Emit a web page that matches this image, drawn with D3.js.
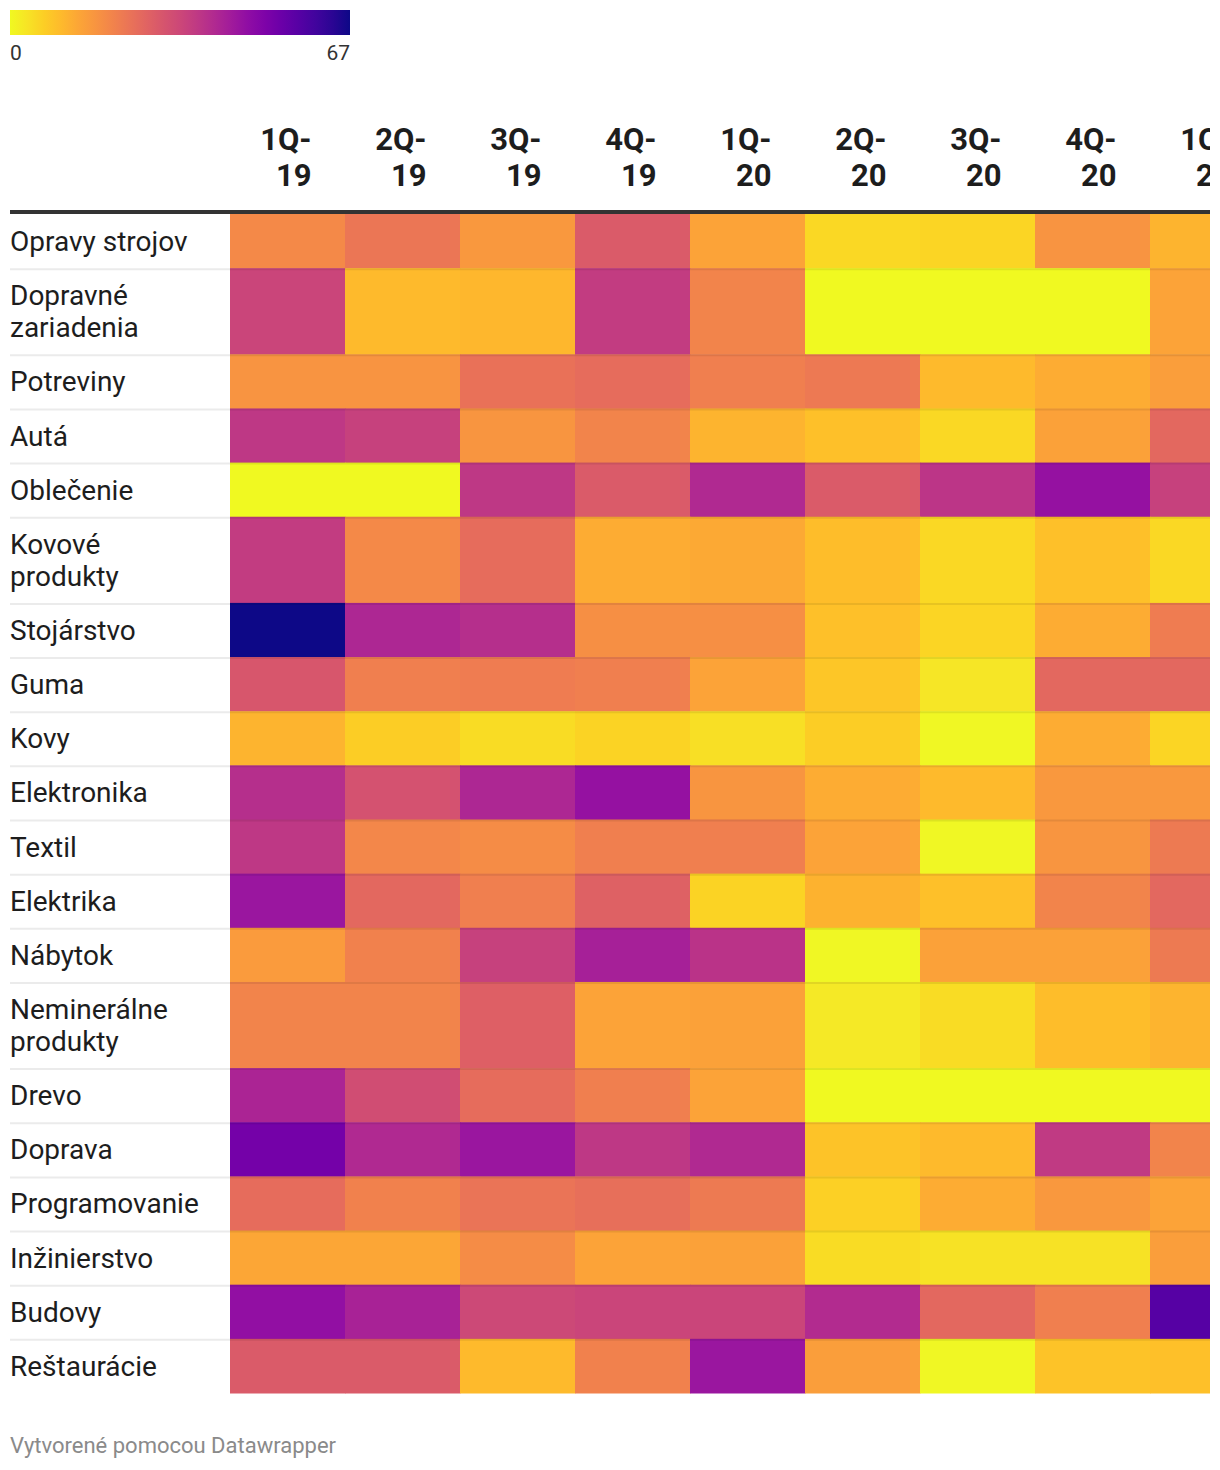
<!DOCTYPE html>
<html>
<head>
<meta charset="utf-8">
<script src="https://cdn.jsdelivr.net/npm/d3@7"></script>
<style>
  html, body { margin: 0; padding: 0; background: #fff; overflow: hidden; }
  svg { display: block; font-family: Roboto, "Noto Sans", sans-serif; }
</style>
</head>
<body>
<svg id="chart" width="1220" height="1470"></svg>
<script>
// ---- data ----
const quarters = ["1Q-19", "2Q-19", "3Q-19", "4Q-19", "1Q-20", "2Q-20", "3Q-20", "4Q-20", "1Q-21"];
const categories = [
  "Opravy strojov", "Dopravné zariadenia", "Potreviny", "Autá", "Oblečenie",
  "Kovové produkty", "Stojárstvo", "Guma", "Kovy", "Elektronika", "Textil",
  "Elektrika", "Nábytok", "Neminerálne produkty", "Drevo", "Doprava",
  "Programovanie", "Inžinierstvo", "Budovy", "Reštaurácie"
];
const opravyStrojov      = [19, 23, 16, 29, 14, 5, 5.5, 17, 11];
const dopravneZariadenia = [34, 10, 10.5, 36, 20, 0, 0, 0, 14];
const potreviny          = [17, 17, 24, 25, 21, 22.5, 10, 12.5, 15];
const auta               = [37, 35, 16.5, 20, 11, 9, 5, 14.5, 26];
const oblecenie          = [0, 0, 37, 29, 40.5, 29, 37.5, 46, 35];
const kovoveProdukty     = [36, 19, 25, 12.5, 13, 9.5, 5, 9, 5];
const stojarstvo         = [67, 41, 39, 18, 18, 9, 5.5, 12.5, 21.5];
const guma               = [30, 21, 21.5, 21, 14, 8, 3, 26, 26];
const kovy               = [11, 7, 4.5, 6, 4, 7, 0.5, 12.5, 5.5];
const elektronika        = [39, 31, 41, 46, 16.5, 12.5, 10, 16, 16];
const textil             = [37, 19.5, 18.5, 21, 21, 14, 0.5, 16.5, 22];
const elektrika          = [45, 26, 21, 27.5, 6, 11.5, 9, 20, 26];
const nabytok            = [15.5, 20.5, 35, 42.5, 38, 0.5, 14.5, 14.5, 22];
const nemineralne        = [20, 20, 28, 14, 14.5, 2.5, 4.5, 9.5, 11];
const drevo              = [41.5, 32, 25, 21, 14, 0, 0, 0, 0];
const doprava            = [52, 40.5, 45, 37, 40.5, 8.5, 10, 36.5, 20];
const programovanie      = [25, 20.5, 23.5, 24.5, 22, 6.5, 12.5, 16, 14];
const inzinierstvo       = [13.5, 13.5, 18.5, 14, 14.5, 4.5, 3.5, 3.5, 15];
const budovy             = [46.5, 42, 33, 34, 34, 40, 26, 21, 57];
const restauracie        = [29, 29, 10, 20.5, 45, 15, 0.5, 8.5, 9];
const values = [opravyStrojov, dopravneZariadenia, potreviny, auta, oblecenie,
  kovoveProdukty, stojarstvo, guma, kovy, elektronika, textil, elektrika, nabytok,
  nemineralne, drevo, doprava, programovanie, inzinierstvo, budovy, restauracie];
const legendTicks = [0, 67];
const footerText = "Vytvorené pomocou Datawrapper";

// ---- layout ----
const svg = d3.select("#chart");
const leftX = 10, gridLeft = 230, clipRight = 1210;
const colW = 115;
const gridTop = 214, lineH = 31.5, singleH = 54.15;

const color = d3.scaleSequential(t => d3.interpolatePlasma(1 - t)).domain(d3.extent(legendTicks));

// wrap category labels to measure line counts
const measure = svg.append("text").attr("font-size", 28).attr("visibility", "hidden");
function wrap(str, maxW) {
  const words = str.split(" ");
  const lines = [];
  let cur = "";
  for (const w of words) {
    const test = cur ? cur + " " + w : w;
    measure.text(test);
    if (measure.node().getComputedTextLength() > maxW && cur) { lines.push(cur); cur = w; }
    else cur = test;
  }
  lines.push(cur);
  return lines;
}
const rowLines = categories.map(c => wrap(c, 205));
measure.remove();
const rowHeights = rowLines.map(l => singleH + (l.length - 1) * 32);
const rowTops = [gridTop, ...d3.cumsum(rowHeights).map(s => gridTop + s)];
const y = d3.scaleOrdinal().domain(categories).range(rowTops.slice(0, categories.length));
const yh = d3.scaleOrdinal().domain(categories).range(rowHeights);

const x = d3.scaleBand().domain(quarters).range([gridLeft, gridLeft + colW * quarters.length]).padding(0);

// clip
const defs = svg.append("defs");
defs.append("clipPath").attr("id", "clip").append("rect")
  .attr("x", 0).attr("y", 0).attr("width", clipRight).attr("height", 1470);

// legend
const lg = defs.append("linearGradient").attr("id", "lg").attr("x1", "0%").attr("x2", "100%");
d3.range(0, 1.0001, 0.05).forEach(t => {
  lg.append("stop").attr("offset", (t * 100) + "%").attr("stop-color", color(legendTicks[0] + t * (legendTicks[1] - legendTicks[0])));
});
const legendScale = d3.scaleLinear().domain(d3.extent(legendTicks)).range([10, 350]);
svg.append("rect").attr("x", legendScale(legendTicks[0])).attr("y", 10)
  .attr("width", legendScale(legendTicks[1]) - legendScale(legendTicks[0])).attr("height", 25)
  .attr("fill", "url(#lg)");
svg.selectAll(".lt").data(legendTicks).join("text")
  .attr("x", d => legendScale(d))
  .attr("y", 60)
  .attr("text-anchor", (d, i) => i === 0 ? "start" : "end")
  .attr("font-size", 21).attr("fill", "#333")
  .text(d => d);

const g = svg.append("g").attr("clip-path", "url(#clip)");

// column headers
const hdr = g.selectAll(".hdr").data(quarters).join("text")
  .attr("font-size", 31).attr("font-weight", 700).attr("fill", "#1d1d1d")
  .attr("text-anchor", "end");
hdr.each(function(d) {
  const parts = d.split("-");
  const lines = [parts[0] + "-", parts[1]];
  const cx = x(d) + x.bandwidth() / 2 + 24;
  d3.select(this).selectAll("tspan").data(lines).join("tspan")
    .attr("x", cx).attr("y", (l, i) => 150 + i * 36).text(l => l);
});

// cells
const cells = [];
categories.forEach((c, i) => quarters.forEach((q, j) => cells.push({ c, q, v: values[i][j] })));
g.selectAll(".cell").data(cells).join("rect")
  .attr("x", d => x(d.q)).attr("y", d => y(d.c))
  .attr("width", x.bandwidth() + 0.5).attr("height", d => yh(d.c) + 0.5)
  .attr("fill", d => color(d.v));

// row separators
g.selectAll(".sep").data(categories.slice(1)).join("line")
  .attr("x1", leftX).attr("x2", clipRight)
  .attr("y1", d => y(d) + 1).attr("y2", d => y(d) + 1)
  .attr("stroke", "rgba(0,0,0,0.08)").attr("stroke-width", 2);

// header rule
svg.append("line").attr("x1", leftX).attr("x2", clipRight).attr("y1", 212).attr("y2", 212)
  .attr("stroke", "#333").attr("stroke-width", 4);

// row labels
categories.forEach((c, i) => {
  const lines = rowLines[i];
  const cy = y(c) + yh(c) / 2;
  svg.append("text").attr("font-size", 28).attr("fill", "#1d1d1d")
    .selectAll("tspan").data(lines).join("tspan")
    .attr("x", leftX)
    .attr("y", (l, k) => cy + 10 + (k - (lines.length - 1) / 2) * lineH)
    .text(l => l);
});

// footer
svg.append("text").attr("x", 10).attr("y", 1453).attr("font-size", 22).attr("fill", "#8a8a8a")
  .text(footerText);
</script>
</body>
</html>
